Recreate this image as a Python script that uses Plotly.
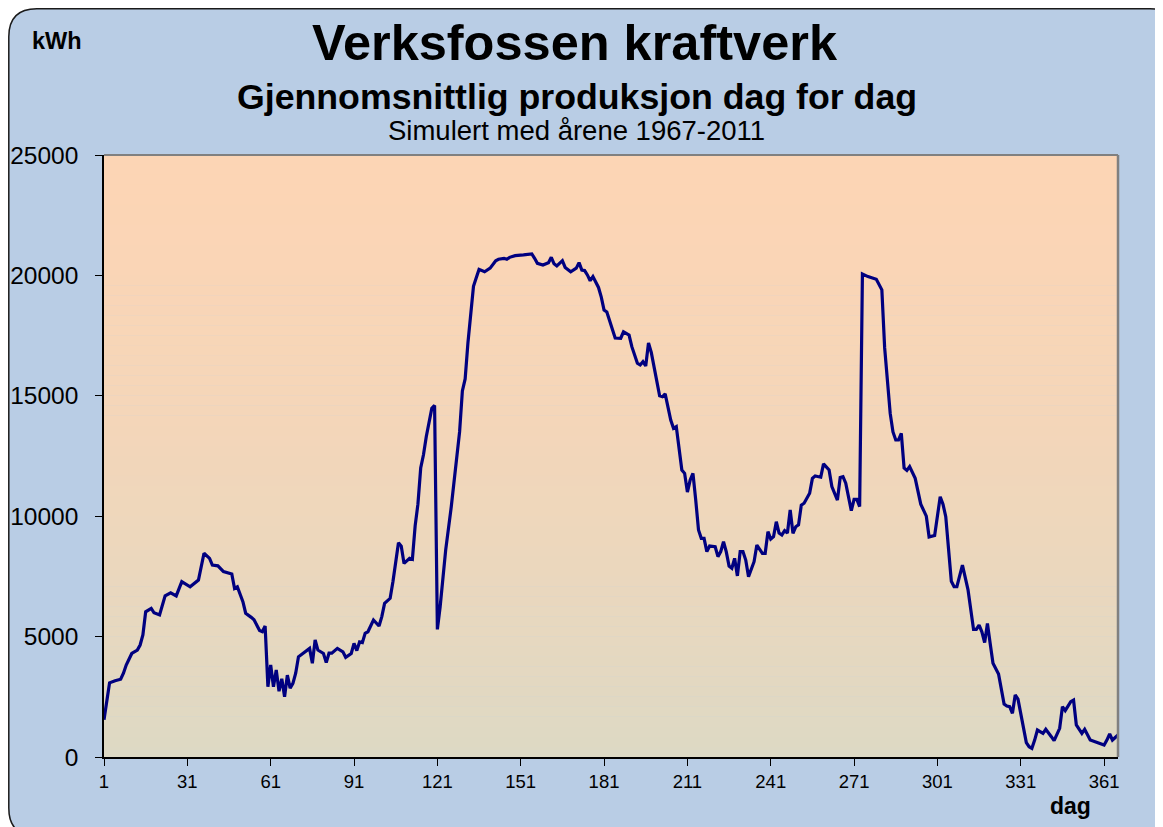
import plotly.graph_objects as go

# ---- data ----
days = [1, 2, 3, 5, 7, 8, 9, 11, 13, 14, 15, 16, 18, 19, 21, 23, 25, 27, 29, 32,
        34, 35, 37, 39, 40, 42, 44, 46, 47, 48, 49, 51, 52, 54, 55, 57, 58, 59, 60, 61,
        62, 63, 64, 65, 66, 67, 68, 69, 70, 71, 73, 75, 76, 77, 78, 80, 81, 82, 83, 85,
        87, 88, 90, 91, 92, 93, 94, 95, 96, 97, 98, 100, 101, 102, 104, 105, 106, 107, 108, 109,
        111, 112, 113, 114, 115, 116, 117, 118, 119, 120, 121, 122, 124, 126, 127, 128, 129, 130, 131, 132,
        133, 134, 135, 136, 138, 140, 142, 143, 145, 146, 147, 149, 152, 155, 156, 157, 159, 161, 162, 163,
        164, 166, 167, 169, 171, 172, 173, 174, 175, 176, 177, 179, 180, 181, 182, 184, 185, 187, 188, 190,
        191, 193, 194, 195, 196, 197, 198, 199, 200, 201, 202, 203, 205, 206, 207, 208, 209, 210, 211, 212,
        213, 214, 215, 216, 217, 218, 219, 221, 222, 223, 224, 225, 226, 227, 228, 229, 230, 231, 232, 233,
        234, 235, 236, 237, 238, 239, 240, 241, 242, 243, 244, 245, 246, 247, 248, 249, 250, 251, 252, 253,
        255, 256, 257, 259, 260, 262, 263, 265, 266, 267, 268, 270, 271, 272, 273, 274, 276, 279, 280, 281,
        282, 283, 284, 285, 286, 287, 288, 289, 290, 291, 293, 295, 296, 297, 298, 300, 302, 303, 304, 305,
        306, 307, 308, 310, 311, 312, 314, 315, 316, 317, 318, 319, 320, 321, 323, 324, 325, 326, 327, 328,
        329, 330, 331, 332, 333, 334, 335, 336, 337, 339, 340, 342, 343, 345, 346, 347, 349, 350, 351, 353,
        354, 356, 358, 361, 362, 363, 364, 366]
kwh = [1550, 2230, 3080, 3170, 3230, 3480, 3820, 4300, 4440, 4650, 5070, 6030, 6170, 5990, 5900, 6690, 6820, 6690, 7280, 7070,
       7240, 7350, 8460, 8250, 7970, 7940, 7700, 7630, 7600, 7000, 7070, 6450, 5970, 5800, 5700, 5250, 5200, 5440, 2920, 3820,
       2920, 3610, 2730, 3250, 2500, 3400, 2860, 3060, 3480, 4160, 4330, 4510, 3890, 4860, 4440, 4300, 3920, 4310, 4310, 4510,
       4370, 4140, 4300, 4720, 4420, 4780, 4750, 5140, 5200, 5480, 5690, 5440, 5830, 6380, 6590, 7280, 8180, 8900, 8760, 8040,
       8250, 8210, 9600, 10500, 12000, 12550, 13300, 13860, 14480, 14600, 5300, 6240, 8600, 10390, 11500, 12300, 13500, 15200, 15700, 17200,
       18500, 19550, 19900, 20250, 20150, 20300, 20610, 20670, 20710, 20670, 20750, 20820, 20850, 20890, 20710, 20500, 20430, 20530, 20750, 20480,
       20390, 20610, 20330, 20150, 20300, 20530, 20220, 20200, 20020, 19780, 19950, 19500, 19100, 18560, 18480, 17730, 17400, 17390, 17660, 17520,
       17040, 16350, 16280, 16420, 16240, 17200, 16800, 16200, 15650, 15000, 14960, 15080, 13990, 13650, 13720, 12890, 11920, 11780, 11000, 11500,
       11780, 10670, 9430, 9080, 9080, 8530, 8760, 8730, 8320, 8530, 8940, 8520, 7930, 7840, 8250, 7520, 8530, 8530, 8180, 7490,
       7770, 8110, 8800, 8600, 8460, 8460, 9360, 9050, 9150, 9770, 9300, 9220, 9400, 9300, 10260, 9290, 9560, 9640, 10460, 10540,
       10950, 11570, 11670, 11620, 12170, 11920, 11230, 10670, 11610, 11640, 11370, 10230, 10700, 10700, 10400, 20060, 19950, 19840, 19600, 19400,
       17000, 15600, 14270, 13500, 13165, 13165, 13440, 12000, 11900, 12060, 11570, 10500, 10260, 10000, 9140, 9200, 10810, 10500, 9980, 8800,
       7300, 7070, 7070, 7970, 7400, 6950, 5300, 5300, 5480, 5200, 4750, 5550, 4700, 3890, 3450, 2900, 2200, 2118, 2089, 1815,
       2575, 2400, 1800, 1121, 600, 428, 361, 700, 1121, 984, 1150, 843, 677, 1192, 2089, 1923, 2300, 2367, 1329, 984,
       1150, 706, 635, 498, 700, 955, 706, 914]

x_ticks = [1, 31, 61, 91, 121, 151, 181, 211, 241, 271, 301, 331, 361]
y_ticks = [0, 5000, 10000, 15000, 20000, 25000]

title_main = "Verksfossen kraftverk"
title_sub = "Gjennomsnittlig produksjon dag for dag"
title_sub2 = "Simulert med årene 1967-2011"
y_unit = "kWh"
x_unit = "dag"

# ---- layout geometry (screen pixels; page body has an 8px margin) ----
OFF = 8
W, H = 1163 - OFF, 827 - OFF
L, R, T, B = 104, 1118, 155, 757          # plot area in screen pixels
PW, PH = R - L, B - T


def px(x):
    return (x - L) / PW


def py(y):
    return (B - y) / PH


FONT = "Liberation Sans, Arial, sans-serif"

fig = go.Figure()
fig.add_trace(go.Scatter(x=days, y=kwh, mode="lines",
                         line=dict(color="#000080", width=3.2),
                         hoverinfo="x+y", showlegend=False))

shapes = []
# rounded chart-area background
x0, x1, y0, y1, r = 8.8, 1178, 8.8, 836, 28
path = (f"M {px(x0 + r)},{py(y0)} L {px(x1 - r)},{py(y0)} Q {px(x1)},{py(y0)} {px(x1)},{py(y0 + r)} "
        f"L {px(x1)},{py(y1 - r)} Q {px(x1)},{py(y1)} {px(x1 - r)},{py(y1)} "
        f"L {px(x0 + r)},{py(y1)} Q {px(x0)},{py(y1)} {px(x0)},{py(y1 - r)} "
        f"L {px(x0)},{py(y0 + r)} Q {px(x0)},{py(y0)} {px(x0 + r)},{py(y0)} Z")
shapes.append(dict(type="path", path=path, xref="paper", yref="paper",
                   fillcolor="#B9CDE5", line=dict(color="#1a1a1a", width=1.5), layer="below"))

# plot-area gradient
top_c = (252, 213, 181)
bot_c = (221, 217, 196)
N = 60
for i in range(N):
    t = (i + 0.5) / N  # 0 top -> 1 bottom
    f = t ** 1.6
    c = tuple(round(top_c[k] + (bot_c[k] - top_c[k]) * f) for k in range(3))
    shapes.append(dict(type="rect", xref="paper", yref="paper",
                       x0=0, x1=1, y0=1 - (i + 1) / N, y1=1 - i / N + 0.0005,
                       fillcolor=f"rgb{c}", line=dict(width=0), layer="below"))
# plot-area border (gray top/right)
shapes.append(dict(type="line", xref="paper", yref="paper", x0=0, x1=1, y0=1, y1=1,
                   line=dict(color="#808080", width=2), layer="above"))
shapes.append(dict(type="line", xref="paper", yref="paper", x0=1, x1=1, y0=0, y1=1,
                   line=dict(color="#808080", width=2.5), layer="above"))

annotations = [
    dict(text=f"<b>{title_main}</b>", x=px(575), y=py(42), xref="paper", yref="paper",
         showarrow=False, xanchor="center", yanchor="middle", font=dict(family=FONT, size=50.5, color="black")),
    dict(text=f"<b>{title_sub}</b>", x=px(577), y=py(97), xref="paper", yref="paper",
         showarrow=False, xanchor="center", yanchor="middle", font=dict(family=FONT, size=35.7, color="black")),
    dict(text=title_sub2, x=px(576), y=py(131), xref="paper", yref="paper",
         showarrow=False, xanchor="center", yanchor="middle", font=dict(family=FONT, size=27.5, color="black")),
    dict(text=f"<b>{y_unit}</b>", x=px(57), y=py(41), xref="paper", yref="paper",
         showarrow=False, xanchor="center", yanchor="middle", font=dict(family=FONT, size=23.5, color="black")),
    dict(text=f"<b>{x_unit}</b>", x=px(1070), y=py(806), xref="paper", yref="paper",
         showarrow=False, xanchor="center", yanchor="middle", font=dict(family=FONT, size=23, color="black")),
]

fig.update_layout(
    width=W, height=H,
    margin=dict(l=L - OFF, r=W - (R - OFF), t=T - OFF, b=H - (B - OFF), pad=0, autoexpand=False),
    paper_bgcolor="white",
    plot_bgcolor="rgba(0,0,0,0)",
    shapes=shapes,
    annotations=annotations,
    showlegend=False,
    xaxis=dict(range=[1, 366], tickvals=x_ticks, ticktext=[str(v) for v in x_ticks],
               ticks="outside", ticklen=7, tickcolor="black", tickwidth=1, automargin=False,
               showgrid=False, zeroline=False, showline=True, linecolor="black", linewidth=1.5,
               tickfont=dict(family=FONT, size=18.5, color="black")),
    yaxis=dict(range=[0, 25000], tickvals=y_ticks, tickformat="d",
               ticks="outside", ticklen=7, tickcolor="black", tickwidth=1, automargin=False,
               showgrid=False, zeroline=False, showline=True, linecolor="black", linewidth=1.5,
               ticklabelstandoff=12,
               tickfont=dict(family=FONT, size=24.5, color="black")),
)

fig.write_html("out.html")
